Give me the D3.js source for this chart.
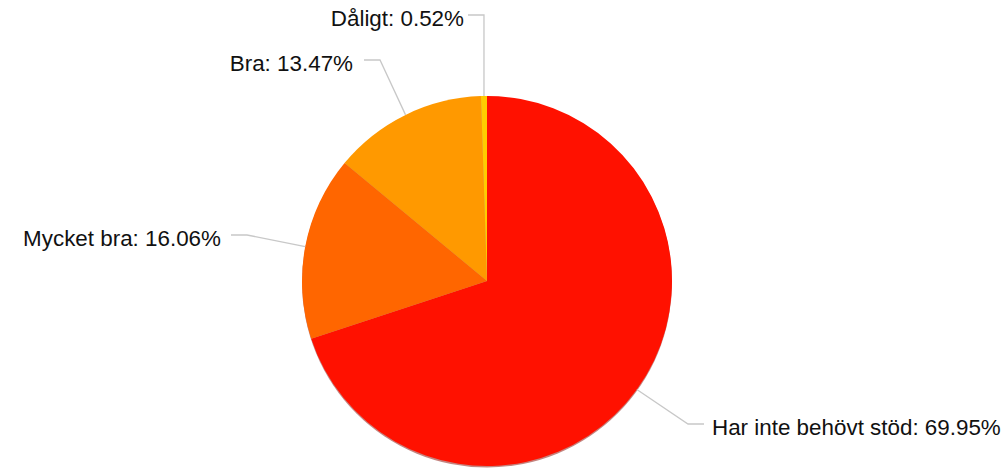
<!DOCTYPE html>
<html><head><meta charset="utf-8">
<script src="https://cdn.jsdelivr.net/npm/d3@7"></script>
<style>body{margin:0;background:#fff}svg{display:block}</style>
</head><body>
<svg id="c" width="1007" height="468"></svg>
<script>
const categories = ["Har inte behövt stöd", "Mycket bra", "Bra", "Dåligt"];
const values = [69.95, 16.06, 13.47, 0.52];
const colors = ["#ff1100", "#ff6600", "#ff9900", "#ffcc00"];
// label layout (label line y, elbow x, text gap)
const labelY = [424, 235, 60, 15];
const elbowX = [688, 247, 380, null];
const textGap = [8, 10, 11, 4];

const W = 1007, H = 468, cx = 487, cy = 281, R = 185;
const svg = d3.select("#c");
const pie = d3.pie().sort(null).value(d => d)(values);
const arc = d3.arc().innerRadius(0).outerRadius(R);

const g = svg.append("g").attr("transform", `translate(${cx},${cy})`);
// shadow
g.append("circle").attr("cx", 0).attr("cy", 1.5).attr("r", R).attr("fill", "#8a0a00").attr("opacity", 0.5);
g.selectAll("path.s").data(pie).join("path").attr("class", "s")
  .attr("d", arc).attr("fill", (d, i) => colors[i]);

const fmt = v => v.toFixed(2) + "%";
pie.forEach((d, i) => {
  const a = (d.startAngle + d.endAngle) / 2;
  const ex = cx + R * Math.sin(a), ey = cy - R * Math.cos(a);
  const right = Math.sin(a) > 0.05;
  let bx = elbowX[i] == null ? ex : elbowX[i];
  const ly = labelY[i];
  const endX = right ? bx + 16 : bx - 16;
  svg.append("polyline")
    .attr("points", `${ex},${ey} ${bx},${ly} ${endX},${ly}`)
    .attr("fill", "none").attr("stroke", "#c8c8c8").attr("stroke-width", 1.3);
  svg.append("text")
    .attr("x", right ? endX + textGap[i] : endX - textGap[i])
    .attr("y", ly)
    .attr("dy", "0.5em")
    .attr("text-anchor", right ? "start" : "end")
    .attr("font-family", "'Liberation Sans', Arial, sans-serif")
    .attr("font-size", 22.4)
    .attr("fill", "#111")
    .text(categories[i] + ": " + fmt(values[i]));
});
</script>
</body></html>
